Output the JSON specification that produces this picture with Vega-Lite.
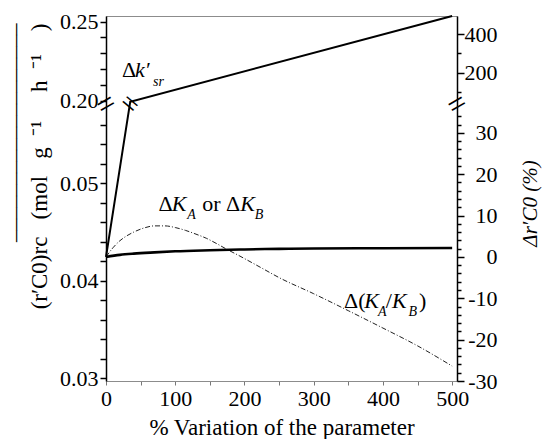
{
  "$schema": "https://vega.github.io/schema/vega-lite/v6.json",
  "width": 351,
  "height": 365,
  "autosize": {"type": "none"},
  "padding": {"left": 106, "top": 16, "right": 90, "bottom": 58},
  "background": "white",
  "config": {
    "font": "Liberation Serif",
    "view": {"stroke": "#8c8c8c", "strokeWidth": 1},
    "axis": {"grid": false, "labelFont": "Liberation Serif", "titleFont": "Liberation Serif", "labelColor": "black", "titleColor": "black", "labelFontSize": 22, "titleFontSize": 23, "titleFontWeight": "normal", "labelOverlap": false, "labelBound": false, "labelFlush": false},
    "text": {"font": "Liberation Serif"}
  },
  "datasets": {
    "ksr": [{"x": 0, "y": 0}, {"x": 35, "y": 50}, {"x": 500, "y": 495}],
    "ka": [{"x": 0, "y": 0}, {"x": 20, "y": 0.5}, {"x": 40, "y": 0.8}, {"x": 70, "y": 1.1}, {"x": 100, "y": 1.35}, {"x": 150, "y": 1.6}, {"x": 200, "y": 1.8}, {"x": 250, "y": 1.95}, {"x": 300, "y": 2.05}, {"x": 400, "y": 2.1}, {"x": 500, "y": 2.15}],
    "kab": [{"x": 0, "y": 0}, {"x": 10, "y": 2.2}, {"x": 20, "y": 3.9}, {"x": 30, "y": 5.1}, {"x": 40, "y": 6.0}, {"x": 55, "y": 7.0}, {"x": 70, "y": 7.5}, {"x": 85, "y": 7.5}, {"x": 100, "y": 7.1}, {"x": 115, "y": 6.4}, {"x": 130, "y": 5.5}, {"x": 145, "y": 4.5}, {"x": 160, "y": 3.2}, {"x": 175, "y": 1.8}, {"x": 190, "y": 0.5}, {"x": 200, "y": -0.4}, {"x": 225, "y": -2.7}, {"x": 250, "y": -5.0}, {"x": 300, "y": -8.9}, {"x": 350, "y": -13.0}, {"x": 400, "y": -17.2}, {"x": 450, "y": -21.5}, {"x": 500, "y": -26.4}],
    "upright": [{"x": 23, "y": 176.7, "t": "Δ"}, {"x": 76, "y": 11.1, "t": "Δ"}, {"x": 139, "y": 11.1, "t": "or Δ"}, {"x": 343.9, "y": -12.3, "t": "Δ("}, {"x": 404, "y": -12.3, "t": "/"}, {"x": 452, "y": -12.3, "t": ")"}],
    "italic": [{"x": 42, "y": 176.7, "t": "k′"}, {"x": 95, "y": 11.1, "t": "K"}, {"x": 194, "y": 11.1, "t": "K"}, {"x": 373, "y": -12.3, "t": "K"}, {"x": 413, "y": -12.3, "t": "K"}],
    "sub": [{"x": 68, "y": 129.8, "t": "sr"}, {"x": 117.5, "y": 9.2, "t": "A"}, {"x": 215, "y": 9.2, "t": "B"}, {"x": 393, "y": -14.2, "t": "A"}, {"x": 437, "y": -14.2, "t": "B"}],
    "axisBreaks": [{"x": 0, "y": 44}, {"x": 507, "y": 44}],
    "lineBreak": [{"x": 34, "y": 44}],
    "leftAxis": [{"x": 0, "r": 0.03}, {"x": 0, "r": 0.25}]
  },
  "encoding": {
    "x": {
      "field": "x", "type": "quantitative",
      "scale": {"domain": [0, 507], "nice": false, "zero": false},
      "axis": {
        "values": [0, 50, 100, 150, 200, 250, 300, 350, 400, 450, 500],
        "labelExpr": "datum.value % 100 === 0 ? datum.label : ''",
        "format": "d",
        "tickSize": 4, "tickColor": "#777777", "domainColor": "#8c8c8c",
        "labelPadding": 3, "labelFont": "Liberation Serif", "titleFont": "Liberation Serif",
        "title": "% Variation of the parameter",
        "titlePadding": 7
      }
    }
  },
  "layer": [
    {
      "encoding": {
        "y": {
          "field": "y", "type": "quantitative",
          "scale": {"domain": [-30, 36, 51.5, 495], "range": [365, 92, 85, 0], "nice": false, "zero": false},
          "axis": {
            "orient": "right",
            "values": [-30, -28, -26, -24, -22, -20, -18, -16, -14, -12, -10, -8, -6, -4, -2, 0, 2, 4, 6, 8, 10, 12, 14, 16, 18, 20, 22, 24, 26, 28, 30, 32, 34, 100, 200, 300, 400],
            "format": "d",
            "labelExpr": "(datum.value <= 40 && datum.value % 10 === 0) || datum.value === 200 || datum.value === 400 ? '' + datum.value : ''",
            "tickSize": {"condition": {"test": "(datum.value <= 40 && datum.value % 10 === 0) || datum.value === 200 || datum.value === 400", "value": 7}, "value": 4},
            "tickColor": "black", "tickWidth": 1.5,
            "domainColor": "black", "domainWidth": 1.5,
            "labelAlign": "right", "labelPadding": 33, "labelFont": "Liberation Serif", "titleFont": "Liberation Serif",
            "title": "Δr′C0 (%)", "titleFontStyle": "italic", "titleFontSize": 21,
            "titleAngle": -90, "titleBaseline": "top", "titlePadding": 22, "titleY": 187
          }
        }
      },
      "layer": [
        {"data": {"name": "kab"}, "mark": {"type": "line", "color": "#222222", "strokeWidth": 1, "strokeDash": [5, 2, 1, 2], "interpolate": "monotone"}},
        {"data": {"name": "ka"}, "mark": {"type": "line", "color": "black", "strokeWidth": 2.6, "interpolate": "monotone"}},
        {"data": {"name": "ksr"}, "mark": {"type": "line", "color": "black", "strokeWidth": 2}},
        {"data": {"name": "upright"}, "mark": {"type": "text", "align": "left", "baseline": "alphabetic", "font": "Liberation Serif", "fontSize": 22, "color": "black"}, "encoding": {"text": {"field": "t"}}},
        {"data": {"name": "italic"}, "mark": {"type": "text", "align": "left", "baseline": "alphabetic", "font": "Liberation Serif", "fontSize": 22, "fontStyle": "italic", "color": "black"}, "encoding": {"text": {"field": "t"}}},
        {"data": {"name": "sub"}, "mark": {"type": "text", "align": "left", "baseline": "alphabetic", "font": "Liberation Serif", "fontSize": 14, "fontStyle": "italic", "color": "black"}, "encoding": {"text": {"field": "t"}}},
        {"data": {"name": "axisBreaks"}, "mark": {"type": "text", "align": "center", "baseline": "middle", "font": "Liberation Serif", "fontSize": 32, "angle": -30, "color": "black"}, "encoding": {"text": {"value": "="}}},
        {"data": {"name": "lineBreak"}, "mark": {"type": "text", "align": "center", "baseline": "middle", "font": "Liberation Serif", "fontSize": 30, "angle": 40, "color": "black"}, "encoding": {"text": {"value": "="}}}
      ]
    },
    {
      "data": {"name": "leftAxis"},
      "mark": {"type": "point", "opacity": 0},
      "encoding": {
        "y": {
          "field": "r", "type": "quantitative",
          "scale": {"domain": [0.02972, 0.05772, 0.1997, 0.2535], "range": [365, 92, 85, 0], "nice": false, "zero": false},
          "axis": {
            "orient": "left",
            "values": [0.03, 0.032, 0.034, 0.036, 0.038, 0.04, 0.042, 0.044, 0.046, 0.048, 0.05, 0.052, 0.054, 0.056, 0.2, 0.21, 0.22, 0.23, 0.24, 0.25],
            "format": ".2f",
            "labelExpr": "indexof([0.03, 0.04, 0.05, 0.2, 0.25], datum.value) >= 0 ? datum.label : ''",
            "tickSize": 6, "tickColor": "black", "tickWidth": 1.5,
            "domainColor": "black", "domainWidth": 1.5,
            "labelPadding": 2, "labelFont": "Liberation Serif", "titleFont": "Liberation Serif",
            "title": ["___________________", "(r′C0)rc\u00a0\u00a0\u00a0(mol\u00a0\u00a0\u00a0g\u00a0\u00a0⁻¹\u00a0\u00a0\u00a0\u00a0\u00a0h\u00a0\u00a0⁻¹\u00a0\u00a0\u00a0\u00a0)"],
            "titleLineHeight": 33,
            "titleAlign": "right",
            "titleY": 7,
            "titlePadding": 8
          }
        }
      }
    }
  ],
  "resolve": {"scale": {"y": "independent"}}
}
